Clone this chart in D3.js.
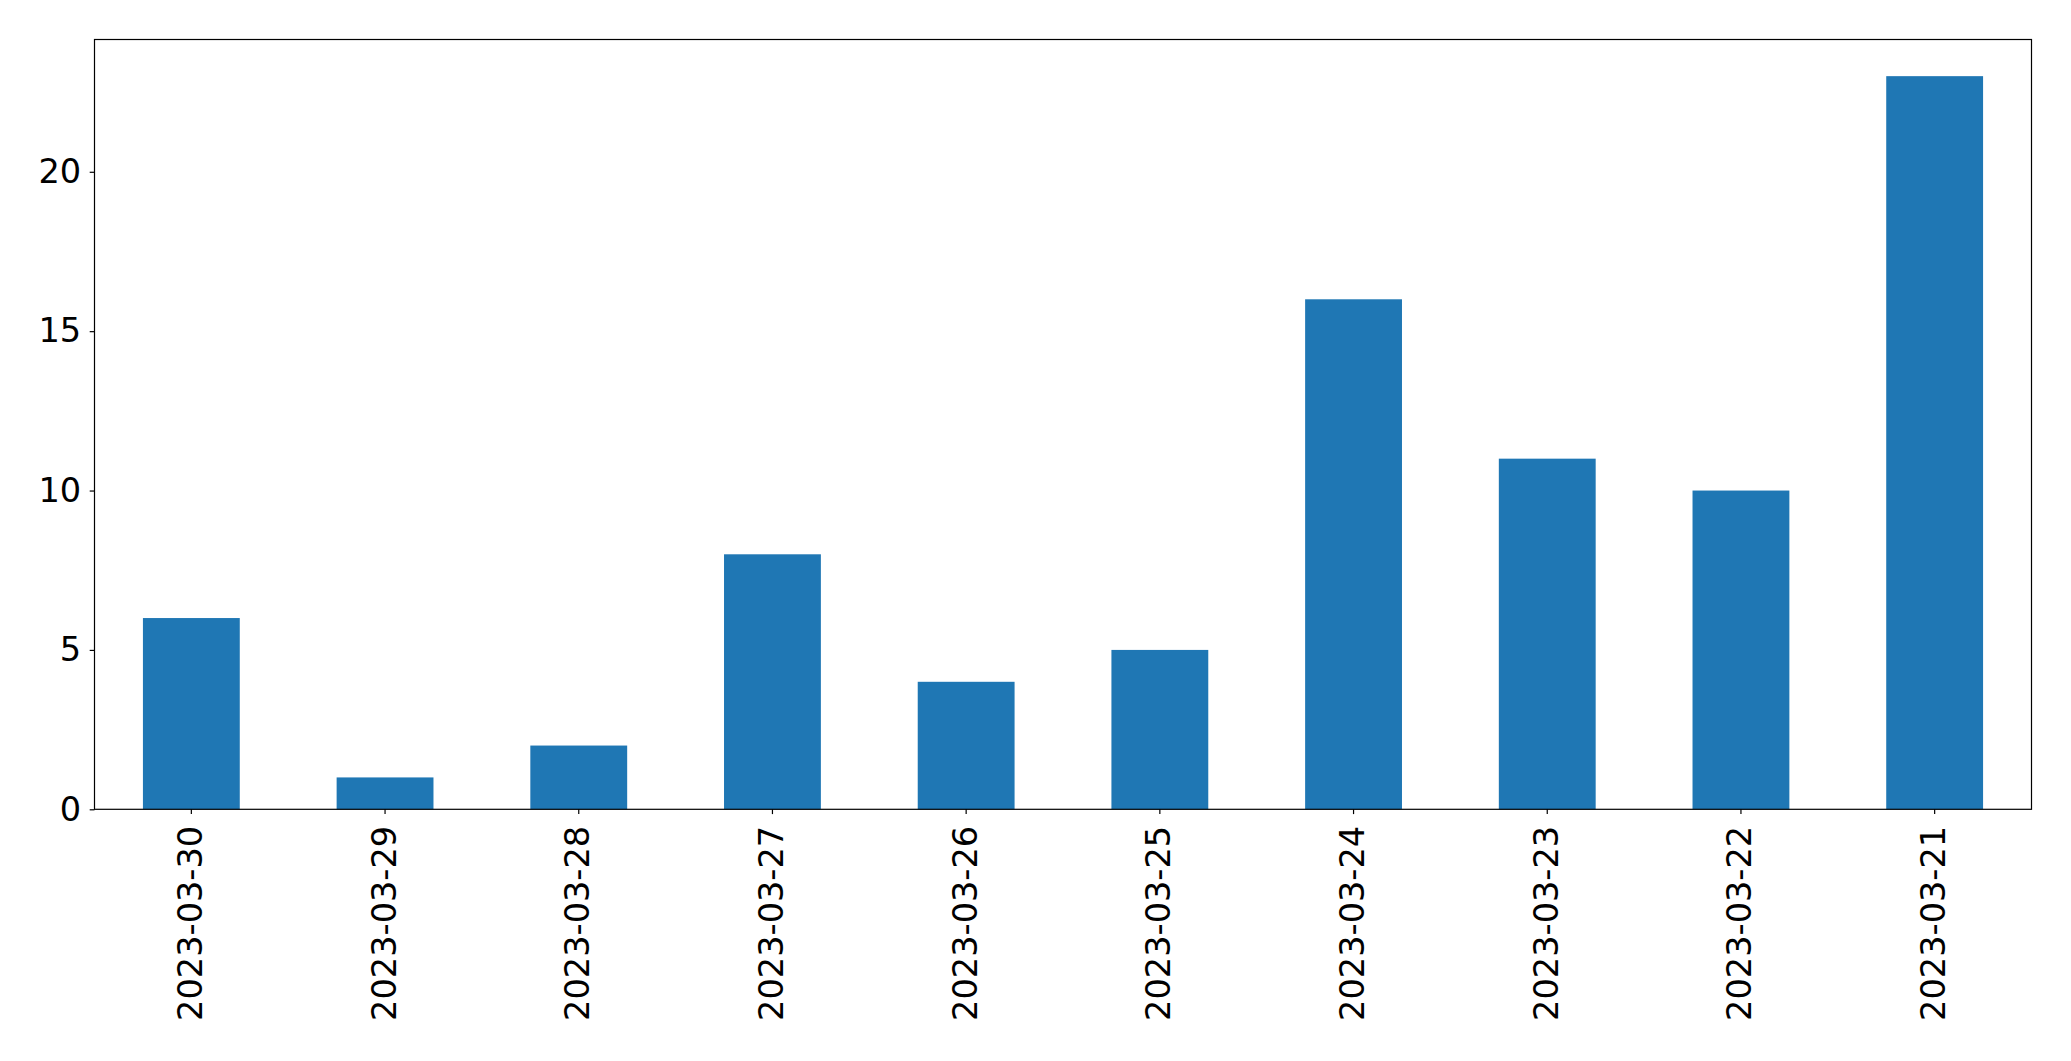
<!DOCTYPE html>
<html>
<head>
<meta charset="utf-8">
<script src="https://cdn.jsdelivr.net/npm/d3@7"></script>
<style>
  body { margin: 0; background: #fff; }
  text { font-family: "DejaVu Sans", sans-serif; }
</style>
</head>
<body>
<div id="chart"></div>
<script>
const dates = ['2023-03-30', '2023-03-29', '2023-03-28', '2023-03-27', '2023-03-26',
               '2023-03-25', '2023-03-24', '2023-03-23', '2023-03-22', '2023-03-21'];
const counts = [6, 1, 2, 8, 4, 5, 16, 11, 10, 23];
const y_ticks = [0, 5, 10, 15, 20];

const width = 2071;
const height = 1061;
const margin = {left: 94.5, right: 2071 - 2031.5, top: 39.5, bottom: 1061 - 809.3};
const font_size = 33.6;
const bar_color = '#1f77b4';

let svg = d3.select('#chart').append('svg')
            .attr('width', width)
            .attr('height', height);

let x = d3.scaleBand()
          .domain(dates)
          .range([margin.left, width - margin.right])
          .paddingInner(0.5)
          .paddingOuter(0.25);

let y_max = d3.max(counts) * 1.05;
let y = d3.scaleLinear()
          .domain([0, y_max])
          .range([height - margin.bottom, margin.top]);

let data = dates.map(function(d, i){return {date: d, count: counts[i]};});

svg.selectAll('rect.bars')
   .data(data)
   .enter()
   .append('rect')
   .attr('x', function(d){return x(d.date);})
   .attr('width', x.bandwidth())
   .attr('y', function(d){return y(d.count);})
   .attr('height', function(d){return y(0) - y(d.count);})
   .attr('fill', bar_color);

// y axis
let y_axis = svg.append('g')
                .attr('transform', 'translate(' + margin.left + ',0)')
                .call(d3.axisLeft(y).tickValues(y_ticks).tickSize(4.8).tickPadding(8.5));
y_axis.select('.domain').remove();
y_axis.selectAll('text').style('font-size', font_size + 'px').attr('fill', '#000');
y_axis.selectAll('line').attr('stroke', '#000').attr('stroke-width', 1.2);

// x axis
let x_axis = svg.append('g')
                .attr('transform', 'translate(0,' + (height - margin.bottom) + ')')
                .call(d3.axisBottom(x).tickSize(4.8).tickPadding(0));
x_axis.select('.domain').remove();
x_axis.selectAll('line').attr('stroke', '#000').attr('stroke-width', 1.2);
x_axis.selectAll('text')
      .style('font-size', font_size + 'px')
      .attr('fill', '#000')
      .attr('text-anchor', 'end')
      .attr('dy', null)
      .attr('dominant-baseline', 'central')
      .attr('transform', 'translate(-1,16.5) rotate(-90)')
      .attr('y', 0)
      .attr('x', 0);

// frame
svg.append('rect')
   .attr('x', margin.left)
   .attr('y', margin.top)
   .attr('width', width - margin.left - margin.right)
   .attr('height', height - margin.top - margin.bottom)
   .attr('fill', 'none')
   .attr('stroke', '#000')
   .attr('stroke-width', 1.2);
</script>
</body>
</html>
